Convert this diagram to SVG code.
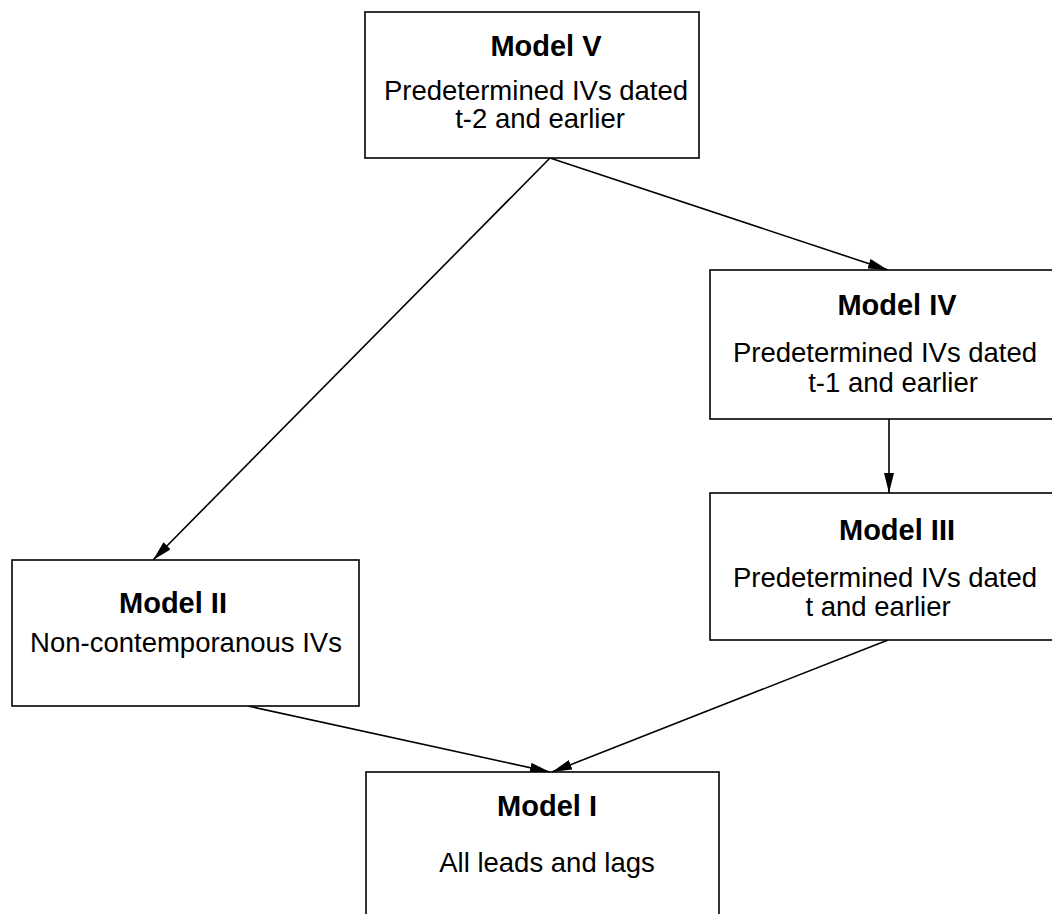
<svg xmlns="http://www.w3.org/2000/svg" width="1052" height="914" viewBox="0 0 1052 914">
<defs>
<style>
.box{fill:#fff;stroke:#000;stroke-width:1.6}
.t{font-family:"Liberation Sans",Arial,sans-serif;font-weight:bold;font-size:29px;fill:#000;text-anchor:middle}
.s{font-family:"Liberation Sans",Arial,sans-serif;font-size:27.5px;fill:#000;text-anchor:middle}
.c{stroke:#000;stroke-width:1.6;fill:none;marker-end:url(#ah)}
</style>
<marker id="ah" viewBox="0 0 20 10" refX="20" refY="5" markerWidth="20" markerHeight="10" markerUnits="userSpaceOnUse" orient="auto">
<path d="M0,0 L20,5 L0,10 Z" fill="#000"/>
</marker>
</defs>
<rect width="1052" height="914" fill="#fff"/>
<g id="connectors">
<line class="c" x1="550" y1="158" x2="888" y2="270"/>
<line class="c" x1="550" y1="158" x2="153" y2="560"/>
<line class="c" x1="889" y1="419" x2="889" y2="493"/>
<line class="c" x1="248" y1="706" x2="550" y2="772"/>
<line class="c" x1="888" y1="640" x2="552" y2="772"/>
</g>
<g id="model5">
<rect class="box" x="365" y="12" width="334" height="146"/>
<text class="t" x="546" y="56">Model V</text>
<text class="s" x="536" y="100">Predetermined IVs dated</text>
<text class="s" x="540" y="128">t-2 and earlier</text>
</g>
<g id="model4">
<rect class="box" x="710" y="270" width="360" height="149"/>
<text class="t" x="897" y="315">Model IV</text>
<text class="s" x="885" y="362">Predetermined IVs dated</text>
<text class="s" x="893" y="392">t-1 and earlier</text>
</g>
<g id="model3">
<rect class="box" x="710" y="493" width="360" height="147"/>
<text class="t" x="897" y="540">Model III</text>
<text class="s" x="885" y="587">Predetermined IVs dated</text>
<text class="s" x="878" y="616">t and earlier</text>
</g>
<g id="model2">
<rect class="box" x="12" y="560" width="347" height="146"/>
<text class="t" x="173" y="613">Model II</text>
<text class="s" x="186" y="652">Non-contemporanous IVs</text>
</g>
<g id="model1">
<rect class="box" x="366" y="772" width="353" height="160"/>
<text class="t" x="547" y="816">Model I</text>
<text class="s" x="547" y="872">All leads and lags</text>
</g>
</svg>
